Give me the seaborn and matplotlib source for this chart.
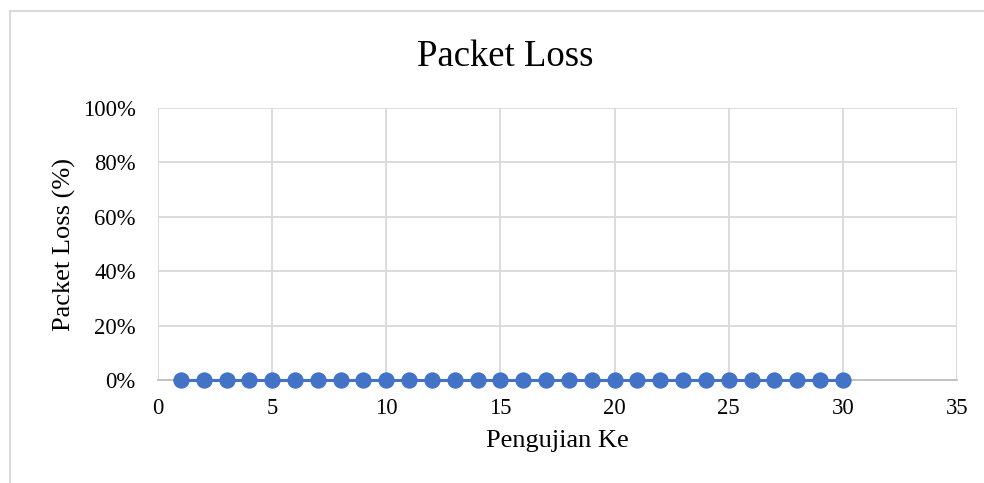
import numpy as np
import pandas as pd
import matplotlib
matplotlib.use('Agg')
import matplotlib.pyplot as plt
import seaborn as sns
from matplotlib.ticker import PercentFormatter
from matplotlib.patches import Rectangle

# data
pengujian = list(range(1, 31))
packet_loss = [0.0] * 30
x_ticks = [0, 5, 10, 15, 20, 25, 30, 35]
y_ticks = [0.0, 0.2, 0.4, 0.6, 0.8, 1.0]

sns.set_style('white')
plt.rcParams['font.family'] = ['Liberation Serif', 'DejaVu Serif']
plt.rcParams['text.color'] = 'black'
plt.rcParams['axes.labelcolor'] = 'black'
plt.rcParams['xtick.color'] = 'black'
plt.rcParams['ytick.color'] = 'black'

df = pd.DataFrame({'Pengujian Ke': pengujian, 'Packet Loss': packet_loss})

fig = plt.figure(figsize=(9.84, 4.83), dpi=100)
ax = fig.add_axes([0.1606, 0.2133, 0.812, 0.563])

# outer chart border (cropped on right/bottom)
fig.patches.append(Rectangle((10 / 984, -0.1), 1.2, (483 - 11) / 483 + 0.1,
                             transform=fig.transFigure, fill=False,
                             edgecolor='#D9D9D9', linewidth=1.5, zorder=0))

sns.lineplot(data=df, x='Pengujian Ke', y='Packet Loss', ax=ax, color='#4472C4',
             linewidth=2.2, marker='o', markersize=11, markeredgecolor='#4472C4',
             zorder=5, clip_on=False)

ax.set_xlim(0, 35)
ax.set_ylim(0, 1.0)
ax.set_xticks(x_ticks)
ax.set_yticks(y_ticks)
ax.yaxis.set_major_formatter(PercentFormatter(1.0, decimals=0))
ax.grid(True, color='#D9D9D9', linewidth=1.3)
ax.set_axisbelow(True)
for s in ['top', 'right', 'left']:
    ax.spines[s].set_visible(False)
ax.spines['bottom'].set_color('#BFBFBF')
ax.spines['bottom'].set_linewidth(1.3)
ax.tick_params(axis='x', length=0, pad=13, labelsize=16.3)
ax.tick_params(axis='y', length=0, pad=16, labelsize=16.3)

fig.text(505 / 984, 1 - 57 / 483, 'Packet Loss', fontsize=26.5, ha='center', va='center')
ax.set_xlabel('Pengujian Ke', fontsize=19, labelpad=8)
ax.set_ylabel('Packet Loss (%)', fontsize=19, labelpad=5)

fig.savefig('out.png', dpi=100)
